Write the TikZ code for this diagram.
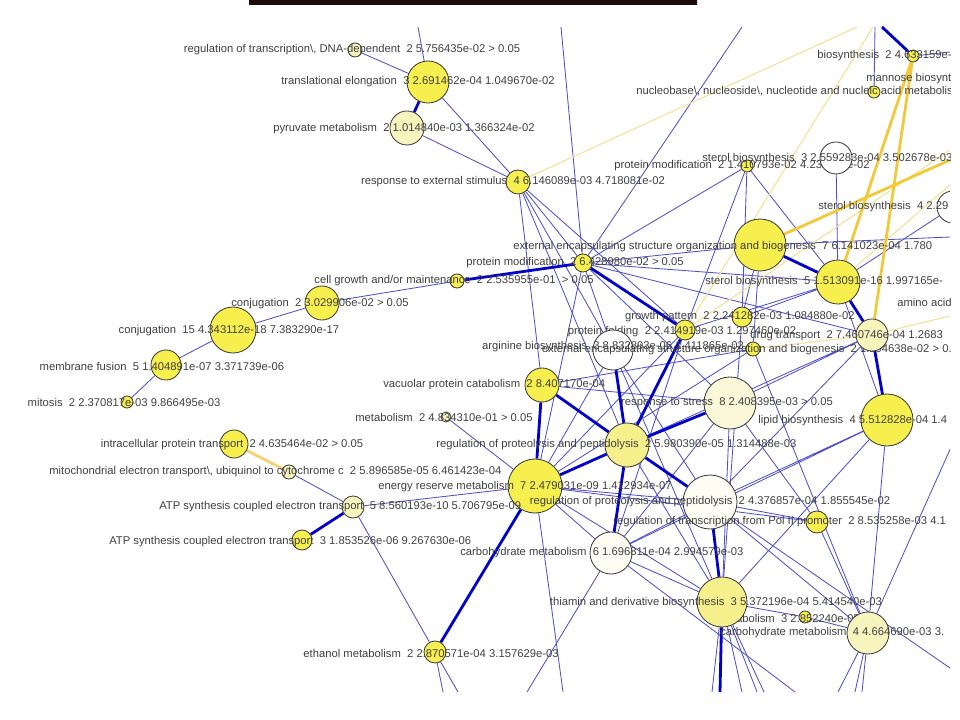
\documentclass[tikz,border=0pt]{standalone}
\usepackage{fontspec}
\setmainfont{Liberation Sans}
\usepackage{tikz}
\usetikzlibrary{backgrounds}
\definecolor{ybright}{HTML}{F6EF4E}
\definecolor{ymid}{HTML}{F6F08C}
\definecolor{ypale}{HTML}{F8F4BE}
\definecolor{ylight}{HTML}{FAF8D8}
\definecolor{ywhite}{HTML}{FDFDF3}
\definecolor{ndraw}{HTML}{3C3C3C}
\definecolor{txt}{HTML}{404040}
\definecolor{eblue}{HTML}{5050C8}
\definecolor{edark}{HTML}{0000C8}
\definecolor{eyel}{HTML}{F1E39A}
\definecolor{eyelt}{HTML}{F2C93A}
\definecolor{barA}{HTML}{1E0A08}
\definecolor{barB}{HTML}{4E1C12}

\begin{document}
\begin{tikzpicture}[x=0.025cm,y=-0.025cm,
  gn/.style={circle,draw=ndraw,line width=0.6pt,inner sep=0pt,minimum size=#1*0.05cm},
  lbl/.style={text=txt,font=\fontsize{8}{9}\selectfont,inner sep=0pt},
  thinedge/.style={eblue,line width=0.6pt},
  thickedge/.style={edark,line width=2pt},
  yeledge/.style={eyel,line width=0.8pt},
  yelthick/.style={eyelt,line width=2pt}]
\useasboundingbox (0,0) rectangle (960,720);
\shade[left color=barA,middle color=barB,right color=barA] (249,0) rectangle (697,5);

% free ends at the border
\coordinate (tA) at (418,27); \coordinate (tB) at (561,27);
\coordinate (tC) at (742,27); \coordinate (tD) at (875,27);
\coordinate (tE) at (882,27); \coordinate (tF) at (857,27);
\coordinate (tG) at (873,27);
\coordinate (rA) at (950,52); \coordinate (rB) at (950,160);
\coordinate (rC) at (950,185); \coordinate (rD) at (950,150);
\coordinate (rE) at (950,237); \coordinate (rF) at (950,316);
\coordinate (rG) at (952,445); \coordinate (rH) at (950,668);
\coordinate (bA) at (527,692); \coordinate (bB) at (563,692);
\coordinate (bC) at (443,692); \coordinate (bD) at (458,692);
\coordinate (bE) at (712,692); \coordinate (bF) at (720,692);
\coordinate (bG) at (742,692); \coordinate (bH) at (757,692);
\coordinate (bM) at (764,692); \coordinate (bI) at (795,692);
\coordinate (bJ) at (838,692); \coordinate (bK) at (855,692);
\coordinate (bL) at (862,692);

\begin{scope}
\clip (0,27) rectangle (950,692);
\node[gn=7,fill=ypale] (regtrans) at (355,50) {};
\node[lbl] (regtrans-l) at (352,50) {regulation of transcription\textbackslash, DNA-dependent~ 2 5.756435e-02 > 0.05};
\node[gn=21,fill=ybright] (transel) at (428,82) {};
\node[lbl] (transel-l) at (418,82) {translational elongation~ 3 2.691462e-04 1.049670e-02};
\node[gn=17,fill=ypale] (pyruv) at (407,128) {};
\node[lbl] (pyruv-l) at (404,129) {pyruvate metabolism~ 2 1.014840e-03 1.366324e-02};
\node[gn=12,fill=ybright] (respext) at (518,182) {};
\node[lbl] (respext-l) at (513,182) {response to external stimulus~ 4 6.146089e-03 4.718081e-02};
\node[gn=6,fill=ybright] (protmodA) at (747,166) {};
\node[lbl] (protmodA-l) at (742,166) {protein modification~ 2 1.410793e-02 4.232589e-02};
\node[gn=16,fill=white] (sterolA) at (836,158) {};
\node[lbl,anchor=west] (sterolA-l) at (702,159) {sterol biosynthesis~ 3 2.559283e-04 3.502678e-03};
\node[gn=6,fill=ybright] (biosyn) at (913,56) {};
\node[lbl,anchor=west] (biosyn-l) at (817,56) {biosynthesis~ 2 4.633159e-03};
\node[lbl,anchor=west] (mannose-l) at (866,79) {mannose biosynthesis};
\node[gn=6,fill=ybright] (nucleo) at (874,92) {};
\node[lbl,anchor=west] (nucleo-l) at (636,91) {nucleobase\textbackslash, nucleoside\textbackslash, nucleotide and nucleic acid metabolism};
\node[gn=16,fill=white] (sterolB) at (953,207) {};
\node[lbl,anchor=west] (sterolB-l) at (818,207) {sterol biosynthesis~ 4 2.29};
\node[gn=26,fill=ybright] (extencA) at (760,245) {};
\node[lbl,anchor=west] (extencA-l) at (513,247) {external encapsulating structure organization and biogenesis~ 7 6.141023e-04 1.780};
\node[gn=9,fill=ybright] (protmodB) at (583,263) {};
\node[lbl] (protmodB-l) at (575,263) {protein modification~ 2 6.428980e-02 > 0.05};
\node[gn=7,fill=ybright] (cellgr) at (457,281) {};
\node[lbl] (cellgr-l) at (454,281) {cell growth and/or maintenance~ 2 2.535955e-01~ > 0.05};
\node[gn=22,fill=ybright] (sterolC) at (838,282) {};
\node[lbl,anchor=west] (sterolC-l) at (705,282) {sterol biosynthesis~ 5 1.513091e-16 1.997165e-};
\node[lbl,anchor=west] (amino-l) at (897,302) {amino acid};
\node[gn=17,fill=ybright] (conjA) at (322,303) {};
\node[lbl] (conjA-l) at (320,304) {conjugation~ 2 3.029906e-02 > 0.05};
\node[gn=23,fill=ybright] (conjB) at (233,330) {};
\node[lbl] (conjB-l) at (229,331) {conjugation~ 15 4.343112e-18 7.383290e-17};
\node[gn=15,fill=ybright] (memfus) at (166,365) {};
\node[lbl] (memfus-l) at (162,366) {membrane fusion~ 5 1.404891e-07 3.371739e-06};
\node[gn=6,fill=ybright] (mitosis) at (127,402) {};
\node[lbl] (mitosis-l) at (124,402) {mitosis~ 2 2.370817e-03 9.866495e-03};
\node[gn=10,fill=ybright] (growth) at (742,317) {};
\node[lbl] (growth-l) at (740,317) {growth pattern~ 2 2.241282e-03 1.084880e-02};
\node[gn=10,fill=ybright] (protfold) at (685,330) {};
\node[lbl] (protfold-l) at (682,332) {protein folding~ 2 2.414919e-03 1.297460e-02};
\node[gn=20,fill=white] (argin) at (613,350) {};
\node[lbl] (argin-l) at (613,347) {arginine biosynthesis~ 3 8.832893e-06 1.411865e-03};
\node[gn=7,fill=ybright] (extencB) at (753,349) {};
\node[lbl] (extencB-l) at (753,350) {external encapsulating structure organization and biogenesis~ 2 1.194638e-02 > 0.05};
\node[gn=16,fill=ypale] (drug) at (872,335) {};
\node[lbl,anchor=west] (drug-l) at (750,336) {drug transport~ 2 7.460746e-04 1.2683};
\node[gn=17,fill=ybright] (vacuol) at (542,385) {};
\node[lbl,anchor=west] (vacuol-l) at (383,385) {vacuolar protein catabolism~ 2 8.407170e-04};
\node[gn=5,fill=ypale] (metab) at (446,417) {};
\node[lbl] (metab-l) at (444,417) {metabolism~ 2 4.834310e-01 > 0.05};
\node[gn=26,fill=ylight] (stress) at (730,403) {};
\node[lbl] (stress-l) at (727,403) {response to stress~ 8 2.408395e-03 > 0.05};
\node[gn=26,fill=ybright] (lipid) at (887,420) {};
\node[lbl,anchor=west] (lipid-l) at (758,421) {lipid biosynthesis~ 4 5.512828e-04 1.4};
\node[gn=14,fill=ybright] (intrac) at (234,444) {};
\node[lbl] (intrac-l) at (232,445) {intracellular protein transport~ 2 4.635464e-02 > 0.05};
\node[gn=22,fill=ymid] (regprA) at (627,445) {};
\node[lbl,anchor=west] (regprA-l) at (436,445) {regulation of proteolysis and peptidolysis~ 2 5.980390e-05 1.314488e-03};
\node[gn=7,fill=ypale] (mitoch) at (289,472) {};
\node[lbl,anchor=west] (mitoch-l) at (49,472) {mitochondrial electron transport\textbackslash, ubiquinol to cytochrome c~ 2 5.896585e-05 6.461423e-04};
\node[gn=27,fill=ybright] (energy) at (535,486) {};
\node[lbl,anchor=west] (energy-l) at (378,487) {energy reserve metabolism~ 7 2.479031e-09 1.412934e-07};
\node[gn=11,fill=ypale] (atpA) at (353,507) {};
\node[lbl,anchor=west] (atpA-l) at (159,507) {ATP synthesis coupled electron transport~ 5 8.560193e-10 5.706795e-09};
\node[gn=27,fill=ywhite] (regprB) at (710,502) {};
\node[lbl] (regprB-l) at (710,502) {regulation of proteolysis and peptidolysis~ 2 4.376857e-04 1.855545e-02};
\node[gn=11,fill=ybright] (regpol) at (817,522) {};
\node[lbl,anchor=west] (regpol-l) at (613,522) {regulation of transcription from Pol II promoter~ 2 8.535258e-03 4.1};
\node[gn=10,fill=ybright] (atpB) at (302,540) {};
\node[lbl,anchor=west] (atpB-l) at (109,542) {ATP synthesis coupled electron transport~ 3 1.853526e-06 9.267630e-06};
\node[gn=21,fill=ywhite] (carboA) at (611,553) {};
\node[lbl,anchor=west] (carboA-l) at (460,553) {carbohydrate metabolism~ 6 1.696811e-04 2.994579e-03};
\node[gn=6,fill=ybright] (small) at (805,617) {};
\node[lbl,anchor=west] (small-l) at (717,618) {metabolism~ 3 2.852240e-05};
\node[gn=25,fill=ymid] (thiamin) at (722,602) {};
\node[lbl] (thiamin-l) at (716,603) {thiamin and derivative biosynthesis~ 3 5.372196e-04 5.414540e-03};
\node[gn=21,fill=ypale] (carboB) at (868,633) {};
\node[lbl,anchor=west] (carboB-l) at (720,633) {carbohydrate metabolism~ 4 4.664690e-03 3.};
\node[gn=11,fill=ybright] (ethanol) at (435,652) {};
\node[lbl] (ethanol-l) at (431,653) {ethanol metabolism~ 2 2.870571e-04 3.157629e-03};
\end{scope}

\begin{pgfonlayer}{background}
\begin{scope}
\clip (0,27) rectangle (950,692);
\begin{scope}[thinedge]
\draw (regtrans) -- (transel) (transel) -- (respext) (pyruv) -- (respext) (transel) -- (tA);
\draw (respext) -- (protmodB) (respext) -- (vacuol) (respext) -- (argin) (respext) -- (protfold) (respext) -- (regprA);
\draw (tB) -- (protmodB) (tC) -- (protmodB) (nucleo) -- (tD) (biosyn) -- (rA);
\draw (protmodA) -- (protmodB) (protmodA) -- (sterolC) (protmodA) -- (protfold) (protmodA) -- (growth);
\draw (sterolA) -- (sterolC) (sterolB) -- (sterolC);
\draw (protmodB) -- (extencA) (protmodB) -- (sterolC) (protmodB) -- (energy) (protmodB) -- (stress) (protmodB) -- (drug) (protmodB) -- (argin);
\draw (cellgr) -- (conjA) (conjA) -- (conjB) (conjB) -- (memfus) (memfus) -- (mitosis);
\draw (extencA) -- (growth) (extencA) -- (extencB) (extencA) -- (rE);
\draw (sterolC) -- (growth) (sterolC) -- (protfold) (sterolC) -- (lipid);
\draw (metab) -- (energy) (vacuol) -- (stress) (vacuol) -- (extencB);
\draw (argin) -- (regprB) (argin) -- (thiamin) (argin) -- (energy);
\draw (protfold) -- (carboA) (protfold) -- (energy) (growth) -- (thiamin);
\draw (extencB) -- (energy) (extencB) -- (carboB);
\draw (drug) -- (regprB) (drug) -- (stress) (drug) -- (energy);
\draw (stress) -- (thiamin) (stress) -- (carboA) (stress) -- (regpol);
\draw (lipid) -- (regprB) (lipid) -- (carboB) (lipid) -- (thiamin) (lipid) -- (carboA);
\draw (regprB) -- (regpol) (regprB) -- (carboB) (regprB) -- (energy);
\draw (regpol) -- (energy) (regpol) -- (carboB) (regprA) -- (rH) (regprA) -- (thiamin);
\draw (carboA) -- (thiamin) (carboA) -- (bA) (carboA) -- (bI) (carboA) -- (regprB);
\draw (thiamin) -- (small) (small) -- (carboB);
\draw (thiamin) -- (bE) (thiamin) -- (bG) (thiamin) -- (bH) (thiamin) -- (bM);
\draw (energy) -- (bB) (energy) -- (carboA) (energy) -- (thiamin);
\draw (ethanol) -- (bC) (ethanol) -- (bD);
\draw (atpA) -- (energy) (atpA) -- (mitoch) (atpA) -- (ethanol);
\draw (carboB) -- (rG) (carboB) -- (bJ) (carboB) -- (bK) (carboB) -- (bL);
\end{scope}
\begin{scope}[yeledge]
\draw (respext) -- (tF) (protfold) -- (tG) (protfold) -- (rD);
\draw (sterolC) -- (rC) (extencB) -- (drug) (drug) -- (rF);
\end{scope}
\begin{scope}[yelthick]
\draw (biosyn) -- (sterolC) (biosyn) -- (drug) (extencA) -- (rB);
\draw[color=eyelt!85!orange!70!white] (intrac) -- (mitoch);
\end{scope}
\begin{scope}[thickedge]
\draw (transel) -- (pyruv) (biosyn) -- (tE);
\draw (protmodB) -- (cellgr) (protmodB) -- (protfold);
\draw (extencA) -- (sterolC) (sterolC) -- (drug) (drug) -- (lipid);
\draw (protfold) -- (regprA) (argin) -- (regprA) (vacuol) -- (regprA) (vacuol) -- (energy);
\draw (regprA) -- (stress) (regprA) -- (energy) (regprA) -- (regprB) (regprA) -- (carboA);
\draw (energy) -- (ethanol) (atpA) -- (atpB);
\draw (regprB) -- (thiamin) (thiamin) -- (bF);
\end{scope}
\end{scope}
\end{pgfonlayer}
\end{tikzpicture}
\end{document}
